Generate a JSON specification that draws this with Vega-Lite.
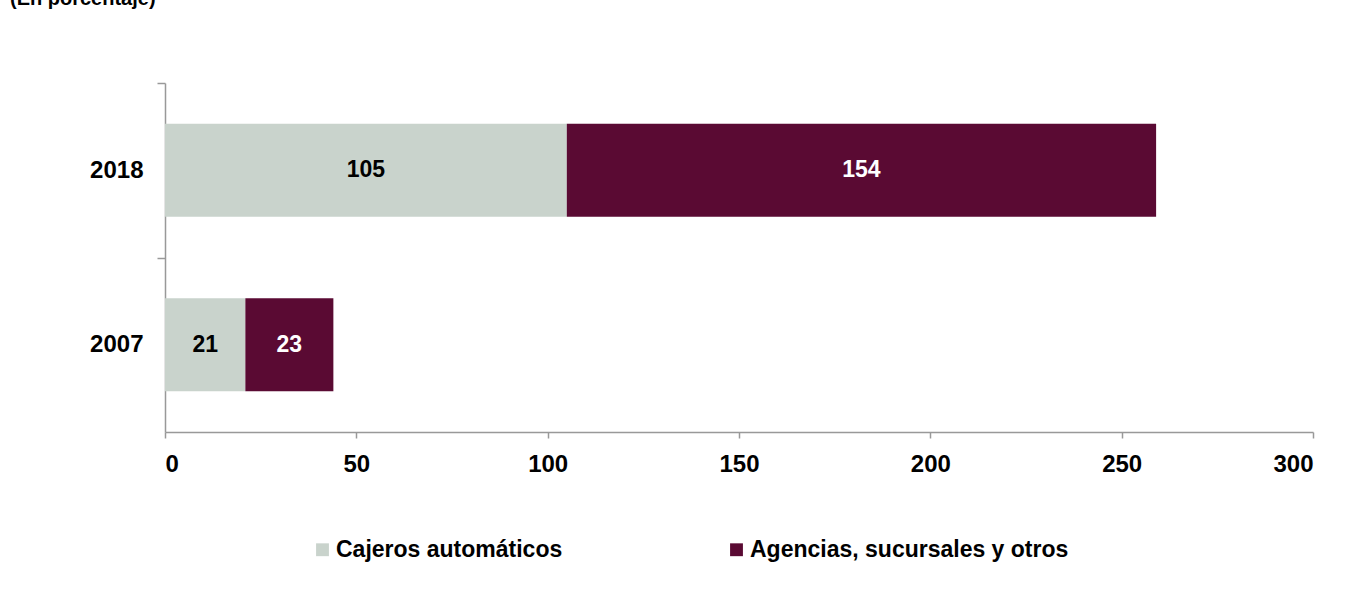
{
  "$schema": "https://vega.github.io/schema/vega-lite/v6.json",
  "width": 1148,
  "height": 349,
  "autosize": {"type": "none"},
  "padding": {"left": 165, "top": 83, "right": 33, "bottom": 176},
  "background": "white",
  "title": {"text": "(En porcentaje)", "anchor": "start", "frame": "group", "dx": -155, "offset": 73, "font": "Liberation Sans", "fontSize": 20, "fontWeight": "bold", "color": "black"},
  "config": {
    "view": {"stroke": null},
    "font": "Liberation Sans",
    "axis": {"labelFont": "Liberation Sans", "labelFontSize": 24, "labelFontWeight": "bold", "labelColor": "black", "domainColor": "#999999", "tickColor": "#999999", "domainWidth": 1.5, "tickWidth": 1.5, "grid": false, "title": null}
  },
  "data": {"values": [
    {"anio": "2018", "serie": "Cajeros automáticos", "orden": 1, "valor": 105},
    {"anio": "2018", "serie": "Agencias, sucursales y otros", "orden": 2, "valor": 154},
    {"anio": "2007", "serie": "Cajeros automáticos", "orden": 1, "valor": 21},
    {"anio": "2007", "serie": "Agencias, sucursales y otros", "orden": 2, "valor": 23}
  ]},
  "transform": [
    {"stack": "valor", "groupby": ["anio"], "sort": [{"field": "orden", "order": "ascending"}], "as": ["x0", "x1"]},
    {"calculate": "(datum.x0 + datum.x1) / 2", "as": "xm"}
  ],
  "encoding": {
    "y": {"field": "anio", "type": "nominal", "sort": ["2018", "2007"],
      "scale": {"paddingInner": 0.467, "paddingOuter": 0.233},
      "axis": {"labelPadding": 14, "tickSize": 8, "tickOffset": -87, "labelOffset": 87, "labelAngle": 0}}
  },
  "layer": [
    {
      "mark": {"type": "bar"},
      "encoding": {
        "x": {"field": "x0", "type": "quantitative", "scale": {"domain": [0, 300]},
          "axis": {"values": [0, 50, 100, 150, 200, 250, 300], "tickSize": 6, "labelPadding": 14}},
        "x2": {"field": "x1"},
        "color": {"field": "serie", "type": "nominal",
          "scale": {"domain": ["Cajeros automáticos", "Agencias, sucursales y otros"], "range": ["#C9D3CC", "#5A0A33"]},
          "legend": {"title": null, "orient": "none", "direction": "horizontal", "legendX": 146, "legendY": 455,
            "symbolType": "square", "symbolSize": 165, "symbolStrokeWidth": 0,
            "labelFont": "Liberation Sans", "labelFontSize": 23, "labelFontWeight": "bold", "labelColor": "black",
            "columnPadding": 162, "labelOffset": 2, "labelLimit": 400}}
      }
    },
    {
      "mark": {"type": "text", "font": "Liberation Sans", "fontSize": 23, "fontWeight": "bold", "align": "center", "baseline": "middle"},
      "encoding": {
        "x": {"field": "xm", "type": "quantitative"},
        "text": {"field": "valor", "type": "quantitative"},
        "color": {"condition": {"test": "datum.serie === 'Agencias, sucursales y otros'", "value": "white"}, "value": "black"}
      }
    }
  ]
}
